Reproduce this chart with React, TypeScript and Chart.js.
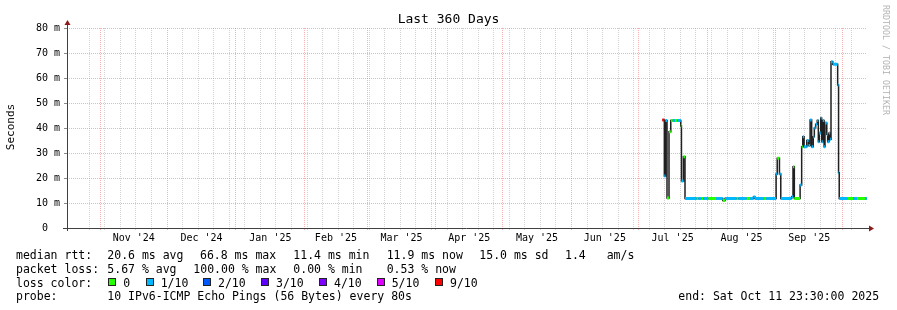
import React, { useEffect, useRef } from "react";
import { Chart, registerables } from "chart.js";

Chart.register(...registerables);

// ---------- data ----------
const TITLE = "Last 360 Days";
const Y_TITLE = "Seconds";
const SPAN_DAYS = 360;
const END_UTC = Date.UTC(2025, 9, 11, 23, 30);

const monthLabels = [
  "Nov '24", "Dec '24", "Jan '25", "Feb '25", "Mar '25", "Apr '25",
  "May '25", "Jun '25", "Jul '25", "Aug '25", "Sep '25",
];
const yTickValues = [0, 5, 10, 15, 20, 25, 30, 35, 40, 45, 50, 55, 60, 65, 70, 75, 80];

const lossLabels = ["0", "1/10", "2/10", "3/10", "4/10", "5/10", "9/10"];
const lossColors = ["#26ff00", "#00b8ff", "#0059ff", "#5e00ff", "#7e00ff", "#dd00ff", "#ff0000"];

// step start (days since graph start), median rtt (ms), loss colour index
const rttDay = [
  267.9, 268.8, 269.3, 270.0, 270.9, 271.7, 272.6, 273.6, 274.6, 276.2,
  276.5, 277.4, 278.1, 283.4, 284.1, 285.6, 286.3, 288.6, 292.1, 295.1,
  296.1, 301.4, 302.1, 305.9, 307.4, 308.9, 309.6, 313.7, 314.6, 319.1,
  319.6, 320.6, 321.2, 326.1, 326.7, 327.3, 329.9, 330.6, 331.1, 331.7,
  332.9, 333.7, 334.4, 335.1, 335.8, 336.3, 336.9, 337.6, 338.1, 338.5,
  339.2, 339.6, 340.1, 340.7, 341.1, 341.9, 342.3, 342.9, 343.4, 343.8,
  344.6, 346.8, 347.2, 347.5, 351.4, 353.7, 355.5, 359.1,
];
const rttEndDay = 359.9;
const rttMedian = [
  43.2, 20.8, 43.0, 12.0, 38.5, 43.0, 43.0, 43.0, 43.0, 40.8,
  18.8, 28.5, 11.8, 11.8, 11.8, 11.8, 11.8, 11.8, 11.8, 11.0,
  11.8, 11.8, 11.8, 11.8, 11.8, 12.4, 11.8, 11.8, 11.8, 21.6,
  27.9, 21.6, 11.8, 12.5, 24.5, 11.8, 17.2, 32.5, 36.5, 32.5,
  35.0, 33.0, 43.2, 32.5, 36.5, 40.0, 41.5, 43.0, 34.5, 38.0,
  44.0, 34.5, 43.0, 32.5, 42.0, 37.5, 34.5, 38.0, 35.5, 66.5,
  65.5, 57.2, 22.1, 11.8, 11.8, 11.8, 11.8, 11.8,
];
const rttLoss = [
  6, 1, 1, 0, 0, 0, 1, 0, 1, 0,
  1, 0, 1, 0, 1, 0, 1, 0, 1, 0,
  1, 0, 1, 0, 1, 1, 1, 0, 1, 1,
  0, 1, 1, 1, 0, 0, 1, 0, 1, 1,
  1, 1, 1, 1, 1, 1, 1, 1, 1, 1,
  1, 1, 1, 1, 1, 1, 1, 1, 1, 1,
  1, 1, 1, 1, 0, 1, 0, 1,
];

const statLines: [string, number][][] = [
  [["median rtt:", 16], ["20.6 ms avg", 107.3], ["66.8 ms max", 200], ["11.4 ms min", 293.3], ["11.9 ms now", 386.7], ["15.0 ms sd", 479.3], ["1.4", 565], ["am/s", 606.7]],
  [["packet loss:", 16], ["5.67 % avg", 107.3], ["100.00 % max", 193.3], ["0.00 % min", 293.3], ["0.53 % now", 386.7]],
];
const lossSwatchX = [108.3, 145.7, 203, 261, 319, 376.7, 435];
const probeText = "10 IPv6-ICMP Echo Pings (56 Bytes) every 80s";
const endText = "end: Sat Oct 11 23:30:00 2025";
const watermark = "RRDTOOL / TOBI OETIKER";

// ---------- helpers ----------
const FONT = '"DejaVu Sans Mono", monospace';
const DAY_MS = 86400000;
const START_UTC = END_UTC - SPAN_DAYS * DAY_MS;
const toDay = (t: number) => (t - START_UTC) / DAY_MS;

export default function App() {
  const ref = useRef<HTMLCanvasElement>(null);

  useEffect(() => {
    const canvas = ref.current!;

    const monthStarts: number[] = [];
    for (let i = 0; i < 12; i++) monthStarts.push(toDay(Date.UTC(2024, 10 + i, 1)));
    const monthMids: number[] = [];
    for (let i = 0; i < monthLabels.length; i++) monthMids.push((monthStarts[i] + monthStarts[i + 1]) / 2);
    const weeks: number[] = [];
    for (let t = Date.UTC(2024, 9, 27); t < END_UTC; t += 7 * DAY_MS) weeks.push(toDay(t));

    const kind = new Map<number, string>();
    weeks.forEach((v) => kind.set(v, "w"));
    monthStarts.forEach((v) => kind.set(v, "m"));
    const labelOf = new Map<number, string>();
    monthMids.forEach((v, i) => { kind.set(v, "l"); labelOf.set(v, monthLabels[i]); });
    const xTicks = Array.from(kind.keys()).sort((a, b) => a - b);

    const lineData = rttDay.map((d, i) => ({ x: d, y: rttMedian[i] }));
    lineData.push({ x: rttEndDay, y: rttMedian[rttMedian.length - 1] });

    const bandData: { x: number; y: number | null }[] = [];
    const bandLoss: number[] = [];
    rttDay.forEach((d, i) => {
      const next = i + 1 < rttDay.length ? rttDay[i + 1] : rttEndDay;
      bandData.push({ x: d, y: rttMedian[i] }, { x: next, y: rttMedian[i] }, { x: next, y: null });
      bandLoss.push(rttLoss[i], rttLoss[i], rttLoss[i]);
    });

    const RED = "rgba(240,100,100,0.5)";
    const GRAY = "rgba(160,160,160,0.45)";

    const axisPlugin = {
      id: "rrdAxes",
      afterDatasetsDraw(chart: any) {
        const { ctx, chartArea: a } = chart;
        ctx.save();
        ctx.strokeStyle = "#404040";
        ctx.lineWidth = 1;
        ctx.beginPath();
        ctx.moveTo(a.left + 0.5, a.bottom + 3);
        ctx.lineTo(a.left + 0.5, a.top - 4);
        ctx.moveTo(a.left - 4, a.bottom + 0.5);
        ctx.lineTo(a.right + 3, a.bottom + 0.5);
        ctx.stroke();
        ctx.fillStyle = "#8b1a1a";
        ctx.beginPath();
        ctx.moveTo(a.left + 0.5, a.top - 8);
        ctx.lineTo(a.left - 2.5, a.top - 3);
        ctx.lineTo(a.left + 3.5, a.top - 3);
        ctx.closePath();
        ctx.fill();
        ctx.beginPath();
        ctx.moveTo(a.right + 7, a.bottom + 0.5);
        ctx.lineTo(a.right + 2, a.bottom - 2.5);
        ctx.lineTo(a.right + 2, a.bottom + 3.5);
        ctx.closePath();
        ctx.fill();
        ctx.restore();
      },
    };

    const chart = new Chart(canvas, {
      type: "line",
      data: {
        datasets: [
          {
            data: bandData as any,
            borderWidth: 3,
            borderCapStyle: "butt",
            pointRadius: 0,
            spanGaps: false,
            order: 0,
            segment: {
              borderColor: (c: any) => lossColors[bandLoss[c.p0DataIndex]],
            },
          } as any,
          {
            data: lineData as any,
            stepped: "before",
            borderColor: "#202020",
            borderWidth: 1.5,
            pointRadius: 0,
            order: 1,
          } as any,
        ],
      },
      options: {
        animation: false,
        responsive: false,
        devicePixelRatio: 1,
        events: [],
        layout: { padding: { left: 0, right: 30, top: 28, bottom: 62 } },
        plugins: { legend: { display: false }, tooltip: { enabled: false }, title: { display: false } },
        scales: {
          x: {
            type: "linear",
            min: 0,
            max: SPAN_DAYS,
            afterBuildTicks: (s: any) => { s.ticks = xTicks.map((v) => ({ value: v })); },
            afterFit: (s: any) => { s.height = 20; },
            border: { display: false, dash: [1, 1] },
            grid: {
              color: (c: any) => {
                const k = kind.get(c.tick?.value);
                return k === "m" ? RED : k === "w" ? GRAY : "rgba(0,0,0,0)";
              },
              tickColor: (c: any) => {
                const k = kind.get(c.tick?.value);
                return k === "m" ? RED : k === "w" ? GRAY : "rgba(0,0,0,0)";
              },
              tickLength: 2,
              lineWidth: 1,
            },
            ticks: {
              autoSkip: false,
              maxRotation: 0,
              minRotation: 0,
              padding: 2,
              color: "#000",
              font: { family: FONT, size: 10 },
              callback: (v: any) => labelOf.get(v) ?? "",
            },
          },
          y: {
            type: "linear",
            min: 0,
            max: 80,
            afterBuildTicks: (s: any) => { s.ticks = yTickValues.map((v) => ({ value: v })); },
            afterFit: (s: any) => { s.width = 67; },
            border: { display: false, dash: [1, 1] },
            grid: {
              color: (c: any) => {
                const v = c.tick?.value;
                if (v === 0) return "rgba(0,0,0,0)";
                return v % 10 === 0 ? RED : GRAY;
              },
              tickColor: (c: any) => (c.tick?.value % 10 === 0 ? "#8a8a8a" : "#c8c8c8"),
              tickLength: 3,
              lineWidth: 1,
            },
            ticks: {
              padding: 4,
              color: "#000",
              font: { family: FONT, size: 10 },
              callback: (v: any) => (v % 10 !== 0 ? "" : v === 0 ? "0  " : `${v} m`),
            },
          },
        },
      },
      plugins: [axisPlugin],
    } as any);

    return () => chart.destroy();
  }, []);

  const lineTop = [247.5, 261.5, 275.5, 289.2];
  const txt = (s: string, left: number, top: number, key: string) => (
    <span key={key} style={{ position: "absolute", left, top, whiteSpace: "pre", fontSize: 11.5, lineHeight: "14px" }}>{s}</span>
  );

  return (
    <div style={{ position: "fixed", left: 0, top: 0, width: 897, height: 310, background: "#fff", fontFamily: FONT, color: "#000", overflow: "hidden" }}>
      <canvas ref={ref} width={897} height={310} style={{ position: "absolute", left: 0, top: 0, width: 897, height: 310 }} />
      <div style={{ position: "absolute", left: 0, top: 11, width: 897, textAlign: "center", fontSize: 13, lineHeight: "16px", whiteSpace: "pre" }}>{TITLE}</div>
      <div style={{ position: "absolute", left: -19, top: 120, width: 60, height: 14, lineHeight: "14px", textAlign: "center", transform: "rotate(-90deg)", transformOrigin: "30px 7px", fontSize: 11, fontWeight: 400, color: "#000", whiteSpace: "pre" }}>{Y_TITLE}</div>
      <div style={{ position: "absolute", left: 826, top: 55, width: 120, height: 10, lineHeight: "10px", textAlign: "center", transform: "rotate(90deg)", transformOrigin: "60px 5px", fontSize: 8.3, color: "#b4b4b4", whiteSpace: "pre" }}>{watermark}</div>
      {statLines.map((line, li) => line.map(([s, x], i) => txt(s, x, lineTop[li], `s${li}-${i}`)))}
      {txt("loss color:", 16, lineTop[2], "lc")}
      {lossSwatchX.map((x, i) => (
        <React.Fragment key={`sw${i}`}>
          <div style={{ position: "absolute", left: x, top: 277.7, width: 8, height: 8, boxSizing: "border-box", border: "1px solid #222", background: lossColors[i] }} />
          {txt(lossLabels[i], x + 15, lineTop[2], `sl${i}`)}
        </React.Fragment>
      ))}
      {txt("probe:", 16, lineTop[3], "pr")}
      {txt(probeText, 107.3, lineTop[3], "pt")}
      {txt(endText, 678.3, lineTop[3], "end")}
    </div>
  );
}
